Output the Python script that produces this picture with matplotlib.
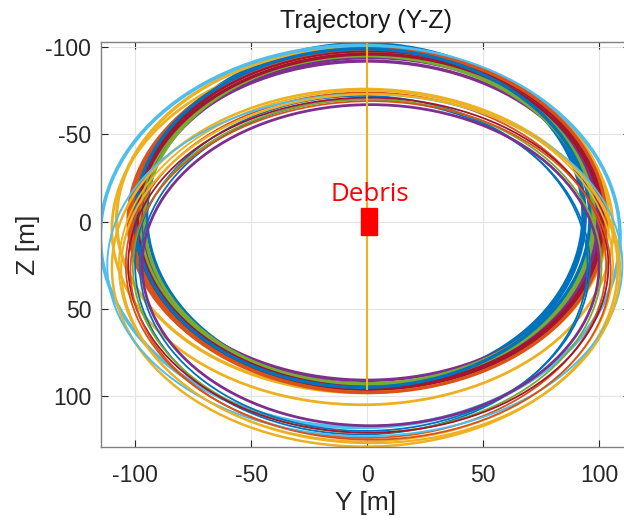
import matplotlib
matplotlib.use("Agg")
import matplotlib.pyplot as plt
from matplotlib.patches import Ellipse, Rectangle

plt.rcParams['font.family'] = ['Liberation Sans', 'DejaVu Sans']
plt.rcParams['axes.unicode_minus'] = False

# MATLAB default palette
C = {'blue': '#0072BD', 'orange': '#D95319', 'yellow': '#EDB120',
     'purple': '#7E2F8E', 'green': '#77AC30', 'lblue': '#4DBEEE', 'dred': '#A2142F'}

# Trajectory loops (extents in metres): top Z, bottom Z, left Y, right Y
loop_top    = [-102, -101, -99, -97, -100, -96, -92, -94, -95, -96, -98, -96, -101, -99, -99,
               -72, -70, -74, -76, -75, -67, -70, -73, -71, -69, -73]
loop_bottom = [96, 94, 97, 96, 98, 105, 91, 93, 93, 94, 96, 95, 118, 98, 95,
               122, 120, 124, 129, 126, 117, 121, 123, 121, 125, 127]
loop_left   = [-97, -95, -101, -103, -108, -110, -99, -97, -98, -96, -100, -99, -115, -102, -100,
               -100, -98, -104, -110, -107, -97, -101, -112, -103, -102, -106]
loop_right  = [94, 93, 100, 101, 104, 106, 99, 100, 97, 98, 102, 101, 109, 103, 96,
               95, 96, 103, 108, 106, 100, 101, 110, 104, 105, 109]
loop_color  = ['blue', 'blue', 'orange', 'orange', 'yellow', 'yellow', 'purple', 'purple',
               'green', 'green', 'dred', 'dred', 'lblue', 'orange', 'blue',
               'blue', 'blue', 'orange', 'yellow', 'yellow', 'purple', 'green', 'lblue',
               'dred', 'orange', 'yellow']
loop_width  = [2.4, 2.4, 2.4, 2.4, 2.4, 2.0, 2.4, 2.4, 2.4, 2.4, 2.4, 2.4, 2.6, 2.4, 2.4,
               1.3, 1.3, 1.3, 1.8, 1.3, 2.0, 1.3, 1.4, 1.3, 1.3, 1.6]

# straight trajectory along Y = 0
line_y = [0, 0]
line_z = [-105, 96]

# debris box
debris_y, debris_z, debris_w, debris_h = -2.7, -7.6, 6.9, 15.2

xticks = [-100, -50, 0, 50, 100]
yticks = [-100, -50, 0, 50, 100]

W, H = 624, 522
fig = plt.figure(figsize=(W / 100, H / 100), dpi=100)
ax = fig.add_axes([101 / W, 1 - 447 / H, (630 - 101) / W, (447 - 42) / H])

for t, b, l, r, c, lw in zip(loop_top, loop_bottom, loop_left, loop_right, loop_color, loop_width):
    ax.add_patch(Ellipse(((l + r) / 2, (t + b) / 2), r - l, b - t,
                         fill=False, edgecolor=C[c], lw=lw))

ax.plot(line_y, line_z, color=C['yellow'], lw=1.5)
ax.add_patch(Rectangle((debris_y, debris_z), debris_w, debris_h, color='red', zorder=5))
ax.text(1.1, -11.6, 'Debris', color='red', fontsize=18.6, ha='center', va='baseline',
        family=['Open Sans', 'DejaVu Sans'])

ax.set_xlim(-114.7, 113.3)
ax.set_ylim(129.2, -102.9)
ax.set_xticks(xticks)
ax.set_yticks(yticks)
ax.grid(True, color='#e3e3e3', lw=0.8)
ax.set_axisbelow(True)
ax.tick_params(direction='in', top=True, right=True, labelsize=16.5, colors='#262626',
               length=5, width=0.8)
ax.tick_params(axis='x', pad=12)
ax.tick_params(axis='y', pad=7)
for s in ax.spines.values():
    s.set_color('#808080')
    s.set_linewidth(1.0)

ax.set_title('Trajectory (Y-Z)', fontsize=18, color='#1a1a1a', pad=10)
ax.set_xlabel('Y [m]', fontsize=19, color='#262626', labelpad=3)
ax.set_ylabel('Z [m]', fontsize=19, color='#262626', labelpad=4)

fig.savefig('out.png', dpi=100)
